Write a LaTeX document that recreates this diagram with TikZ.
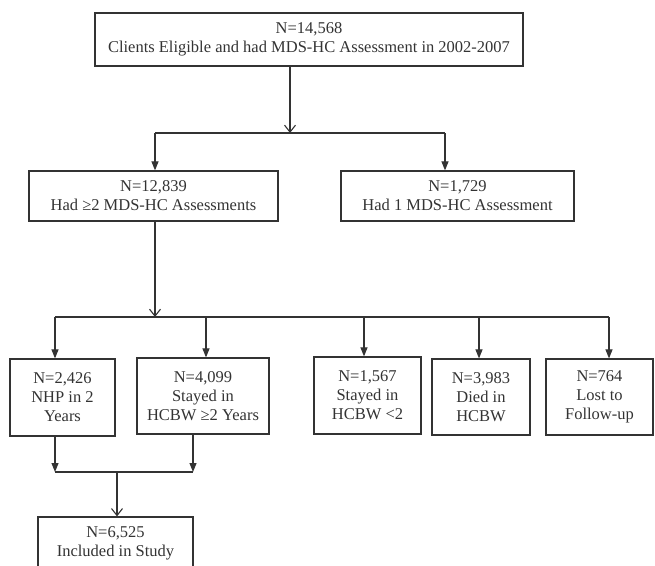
\documentclass[tikz,border=0pt]{standalone}
\usepackage{fontspec}
\setmainfont{Liberation Serif}
\usetikzlibrary{arrows.meta}
\definecolor{ink}{HTML}{333333}
\begin{document}
\begin{tikzpicture}[x=1pt,y=-1pt,
  box/.style={draw=ink, line width=1.2pt, text=ink, align=center, inner sep=0pt,
              font=\fontsize{16.5}{19}\selectfont},
  conn/.style={draw=ink, line width=1.1pt},
  filltip/.style={conn, -{Triangle[length=9pt,width=7pt]}},
  opentip/.style={conn, -{Straight Barb[length=7pt,width=11pt]}}]
\useasboundingbox (0,0) rectangle (655,565);
\clip (0,0) rectangle (655,565);
% boxes
\node[box, minimum width=428pt, minimum height=53pt] (top) at (309,39.5)
  {N=14,568\\Clients Eligible and had MDS-HC Assessment in 2002-2007};
\node[box, minimum width=249pt, minimum height=50pt] (b2) at (153.5,196)
  {N=12,839\\Had ≥2 MDS-HC Assessments};
\node[box, minimum width=233pt, minimum height=50pt] (b3) at (457.5,196)
  {N=1,729\\Had 1 MDS-HC Assessment};
\node[box, minimum width=105pt, minimum height=77pt] (nhp) at (62.5,397.5)
  {N=2,426\\NHP in 2\\Years};
\node[box, minimum width=132pt, minimum height=76pt] (sty) at (203,396)
  {N=4,099\\Stayed in\\HCBW ≥2 Years};
\node[box, minimum width=107pt, minimum height=77pt] (stl) at (367.5,395.5)
  {N=1,567\\Stayed in\\HCBW <2};
\node[box, minimum width=98pt, minimum height=76pt] (died) at (481,397)
  {N=3,983\\Died in\\HCBW};
\node[box, minimum width=107pt, minimum height=76pt] (lost) at (599.5,397)
  {N=764\\Lost to\\Follow-up};
\node[box, minimum width=155pt, minimum height=52pt] (fin) at (115.5,543)
  {N=6,525\\Included in Study};
% first split
\coordinate (j1) at (290,133);
\coordinate (j1l) at (155,133);
\coordinate (j1r) at (445,133);
\draw[opentip] (top.south -| j1) -- (j1);
\draw[conn] (j1l) -- (j1r);
\draw[filltip] (j1l) -- (j1l |- b2.north);
\draw[filltip] (j1r) -- (j1r |- b3.north);
% second split
\coordinate (j2) at (155,317);
\coordinate (j2a) at (55,317);
\coordinate (j2b) at (206,317);
\coordinate (j2c) at (364,317);
\coordinate (j2d) at (479,317);
\coordinate (j2e) at (609,317);
\draw[opentip] (b2.south -| j2) -- (j2);
\draw[conn] (j2a) -- (j2e);
\draw[filltip] (j2a) -- (j2a |- nhp.north);
\draw[filltip] (j2b) -- (j2b |- sty.north);
\draw[filltip] (j2c) -- (j2c |- stl.north);
\draw[filltip] (j2d) -- (j2d |- died.north);
\draw[filltip] (j2e) -- (j2e |- lost.north);
% merge
\coordinate (m1) at (55,472);
\coordinate (m2) at (193,472);
\coordinate (m) at (117,472);
\draw[filltip] (nhp.south -| m1) -- (m1);
\draw[filltip] (sty.south -| m2) -- (m2);
\draw[conn] (m1) -- (m2);
\draw[opentip] (m) -- (m |- fin.north);
\end{tikzpicture}
\end{document}
